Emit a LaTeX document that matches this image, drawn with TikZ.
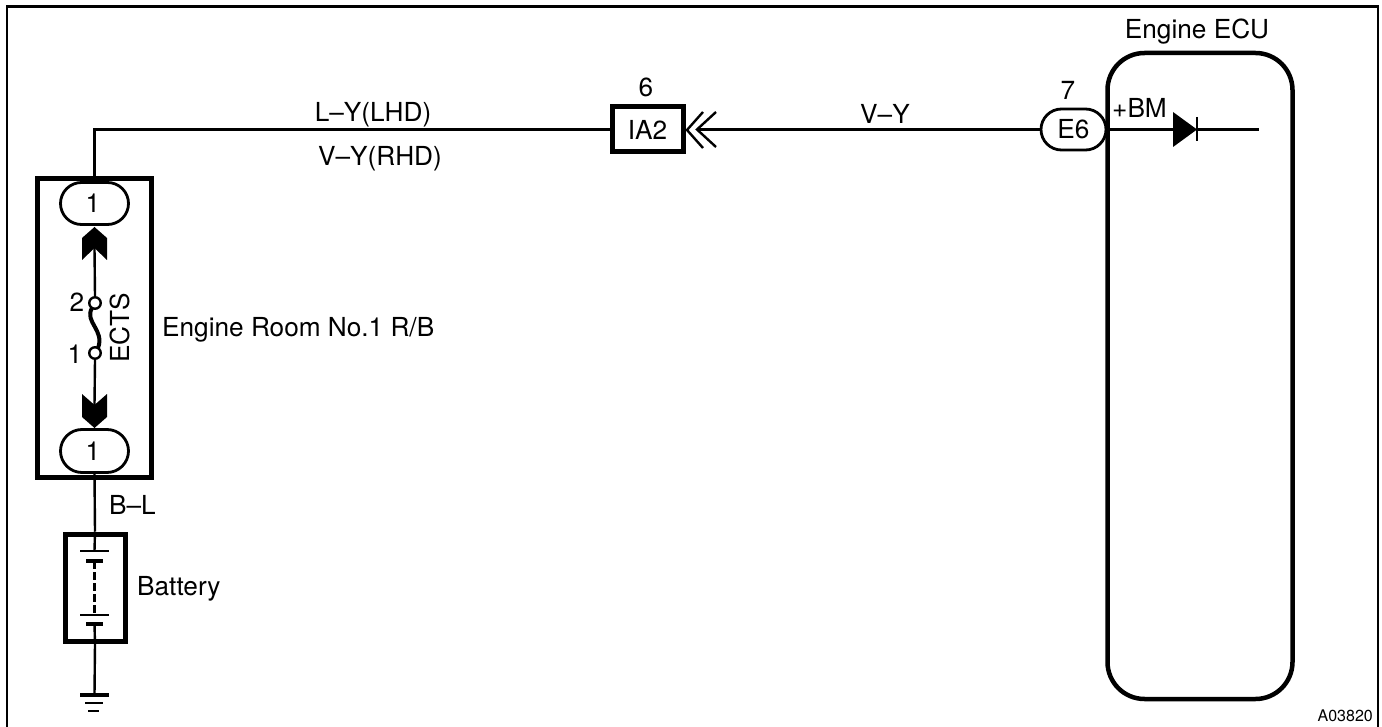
\documentclass[tikz,border=0pt]{standalone}
\usepackage{fontspec}
\setmainfont{TeX Gyre Heros}
\usetikzlibrary{shapes.misc}
\tikzset{
  lbl/.style={inner sep=0pt,font=\fontsize{26.2}{30}\selectfont},
  lblsmall/.style={inner sep=0pt,font=\fontsize{16}{18}\selectfont},
  wire/.style={line width=2.4pt},
  thickbox/.style={draw,line width=5pt,inner sep=0pt,fill=none},
  oval/.style={draw,fill=white,rounded rectangle,line width=2.8pt,inner sep=0pt,font=\fontsize{26.2}{30}\selectfont},
  term/.style={draw,circle,fill=white,line width=2.4pt,minimum size=11.5pt,inner sep=0pt},
  blackhead/.style={fill=black,draw=none},
  thinplate/.style={line width=2.2pt},
  thickplate/.style={line width=4pt},
}
\begin{document}
\begin{tikzpicture}[x=1pt,y=-1pt]
\useasboundingbox (0,0) rectangle (1382,727);
\fill[white] (0,0) rectangle (1382,727);
% frame
\draw[line width=2.5pt] (7,727) -- (7,6.5) -- (1378,6.5) -- (1378,727);

% boxes
\node[thickbox,minimum width=114pt,minimum height=298pt] (rb) at (94,328) {};
\node[thickbox,minimum width=60pt,minimum height=107pt] (batt) at (95,587.5) {};
\node[draw,line width=5pt,inner sep=0pt,minimum width=71pt,minimum height=45pt,font=\fontsize{26.2}{30}\selectfont] (ia) at (647.5,129.5) {IA2};
\node[draw,line width=4.5pt,rounded corners=37pt,minimum width=185pt,minimum height=646pt,inner sep=0pt] (ecu) at (1200,376) {};

% ovals
\node[oval,minimum width=68pt,minimum height=42pt] (otop) at (94.5,203.5) {\hspace{-3pt}1};
\node[oval,minimum width=68pt,minimum height=43pt] (obot) at (94.5,451) {\hspace{-3pt}1};
\node[oval,minimum width=65pt,minimum height=41pt] (e6) at (1073.5,129.5) {E6};

% terminals
\node[term] (t2) at (95,303) {};
\node[term] (t1) at (95,353) {};

% connector points
\coordinate (corner) at (94.5,129.5);
\coordinate (hpoint) at (697,129.5);
\coordinate (arrowtop) at (94.5,248);
\coordinate (arrowbot) at (94.5,405);
\coordinate (p1a) at (94.5,551);
\coordinate (p2a) at (94.5,561);
\coordinate (p1b) at (94.5,615);
\coordinate (p2b) at (94.5,624);
\coordinate (gnd) at (94.5,695);
\coordinate (wend) at (1259,129.5);
\coordinate (dioA) at (1173,129.5);
\coordinate (dioK) at (1197,129.5);

% wires
\draw[wire] (otop.north) -- (corner) -- (ia.west);
\draw[wire] (e6.west) -- (hpoint);
\draw[wire] (e6.east) -- (dioA);
\draw[wire] (dioK) -- (wend);
\draw[wire] (arrowtop) -- (t2.north);
\draw[wire] (t1.south) -- (arrowbot);
\draw[wire] (obot.south) -- (batt.north);
\draw[wire] (batt.north) -- (p1a);
\draw[line width=2.2pt,dash pattern=on 8pt off 3pt] (p2a) -- (p1b);
\draw[wire] (p2b) -- (batt.south);
\draw[wire] (batt.south) -- (gnd);

% chevrons
\draw[line width=2.4pt] (703,112) -- (687,130) -- (703,148);
\draw[line width=2.4pt] (716,112) -- (697,129.5) -- (716,147);

% block arrows
\path[blackhead,fill] (94.5,227) -- (107,238) -- (107,260) -- (94.5,248) -- (82,260) -- (82,238) -- cycle;
\path[blackhead,fill] (94.5,428) -- (107,417) -- (107,394) -- (94.5,405) -- (82,394) -- (82,417) -- cycle;

% fuse
\draw[line width=4pt] (92,308) .. controls (84,322) and (105,330) .. (98,348);

% battery plates
\draw[thinplate] (80,551) -- (109,551);
\draw[thickplate] (86,561) -- (103,561);
\draw[thinplate] (80,615) -- (109,615);
\draw[thickplate] (86,624) -- (103,624);

% ground
\draw[thickplate] (80,695) -- (109,695);
\draw[line width=2.5pt] (85,703) -- (103,703);
\draw[line width=2.8pt] (88,711) -- (99,711);

% diode
\path[blackhead,fill] (1173,112) -- (1197,129.5) -- (1173,147) -- cycle;
\draw[line width=2.2pt] (1197,117) -- (1197,141);

% labels
\node[lbl] (lecu) at (1197,31.5) {Engine ECU};
\node[lbl,anchor=west] (lbm) at (1112,108) {+BM};
\node[lbl] (l7) at (1068,90) {7};
\node[lbl] (l6) at (646,87) {6};
\node[lbl] (lvy) at (885,114) {V–Y};
\node[lbl] (llhd) at (373,114.5) {L–Y(LHD)};
\node[lbl] (lrhd) at (380,159) {V–Y(RHD)};
\node[lbl] (lt2) at (77,302) {2};
\node[lbl] (lt1) at (75,354) {1};
\node[lbl,rotate=90] (lects) at (120,328) {ECTS};
\node[lbl,anchor=west] (lroom) at (162,330) {Engine Room No.1 R/B};
\node[lbl,anchor=west] (lbl) at (109,505) {B–L};
\node[lbl,anchor=west] (lbat) at (137,589) {Battery};
\node[lblsmall,anchor=east] (lcode) at (1373,716) {A03820};
\end{tikzpicture}
\end{document}
